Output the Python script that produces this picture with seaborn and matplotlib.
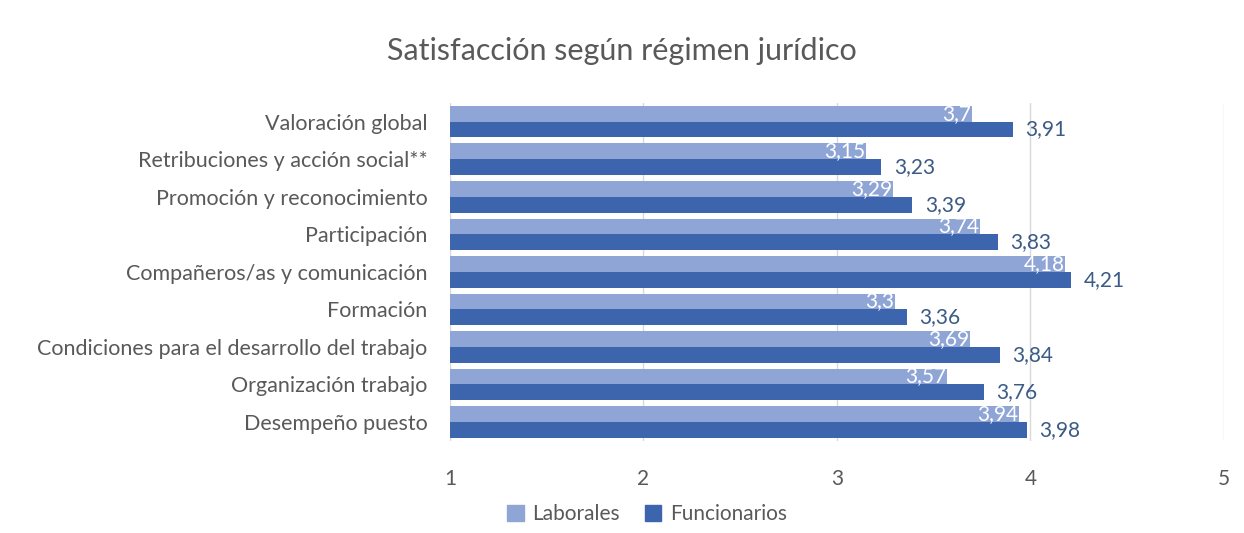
import pandas as pd
import seaborn as sns
import matplotlib.pyplot as plt

# ---- Data ----
categories = [
    "Valoración global",
    "Retribuciones y acción social**",
    "Promoción y reconocimiento",
    "Participación",
    "Compañeros/as y comunicación",
    "Formación",
    "Condiciones para el desarrollo del trabajo",
    "Organización trabajo",
    "Desempeño puesto",
]
laborales = [3.7, 3.15, 3.29, 3.74, 4.18, 3.3, 3.69, 3.57, 3.94]
funcionarios = [3.91, 3.23, 3.39, 3.83, 4.21, 3.36, 3.84, 3.76, 3.98]
series = ["Laborales", "Funcionarios"]
xticks = [1, 2, 3, 4, 5]

df = pd.DataFrame({
    "categoria": categories * 2,
    "valor": laborales + funcionarios,
    "serie": [series[0]] * len(categories) + [series[1]] * len(categories),
})

# ---- Style ----
sns.set_style("white")
plt.rcParams["font.family"] = ["Lato", "DejaVu Sans"]
text_col = "#595959"
colors = {"Laborales": "#8FA5D6", "Funcionarios": "#3D65AE"}

fig = plt.figure(figsize=(12.44, 5.33), dpi=100)
ax = fig.add_axes([0.3617, 0.173, 0.6222, 0.634])
ax.set_axisbelow(True)

sns.barplot(data=df, y="categoria", x="valor", hue="serie", orient="h",
            palette=colors, order=categories, hue_order=series,
            width=0.84, saturation=1, linewidth=0, ax=ax, legend=True)

ax.set_xlim(1, 5)
ax.set_xticks(xticks)
ax.set_xticklabels([str(t) for t in xticks], fontsize=15, color=text_col)
ax.tick_params(axis="x", length=0, pad=20)
ax.tick_params(axis="y", length=0, pad=16, labelsize=15.5, labelcolor=text_col)
ax.set_xlabel("")
ax.set_ylabel("")
ax.grid(axis="x", color="#D9D9D9", linewidth=1)
for s in ax.spines.values():
    s.set_visible(False)

# value labels
fmt = lambda v: f"{v:g}".replace(".", ",")
c_lab, c_fun = ax.containers[0], ax.containers[1]
for bar, v in zip(c_lab, laborales):
    ax.text(v - 0.005, bar.get_y() + bar.get_height() / 2, fmt(v),
            ha="right", va="center", color="white", fontsize=15)
ax.bar_label(c_fun, labels=[fmt(v) for v in funcionarios], label_type="edge",
             padding=9, color="#3B5A85", fontsize=15)

# legend at bottom
ax.legend_.remove()
handles = [plt.Rectangle((0, 0), 1, 1, color=colors[s]) for s in series]
fig.legend(handles, series, loc="lower center", bbox_to_anchor=(0.52, -0.018),
           ncol=2, frameon=False, fontsize=15, labelcolor=text_col,
           handlelength=0.8, handleheight=0.8, columnspacing=1.2, handletextpad=0.4)

fig.text(0.5, 0.905, "Satisfacción según régimen jurídico", ha="center", va="center",
         fontsize=22, color=text_col)

fig.savefig("out.png", dpi=100)
